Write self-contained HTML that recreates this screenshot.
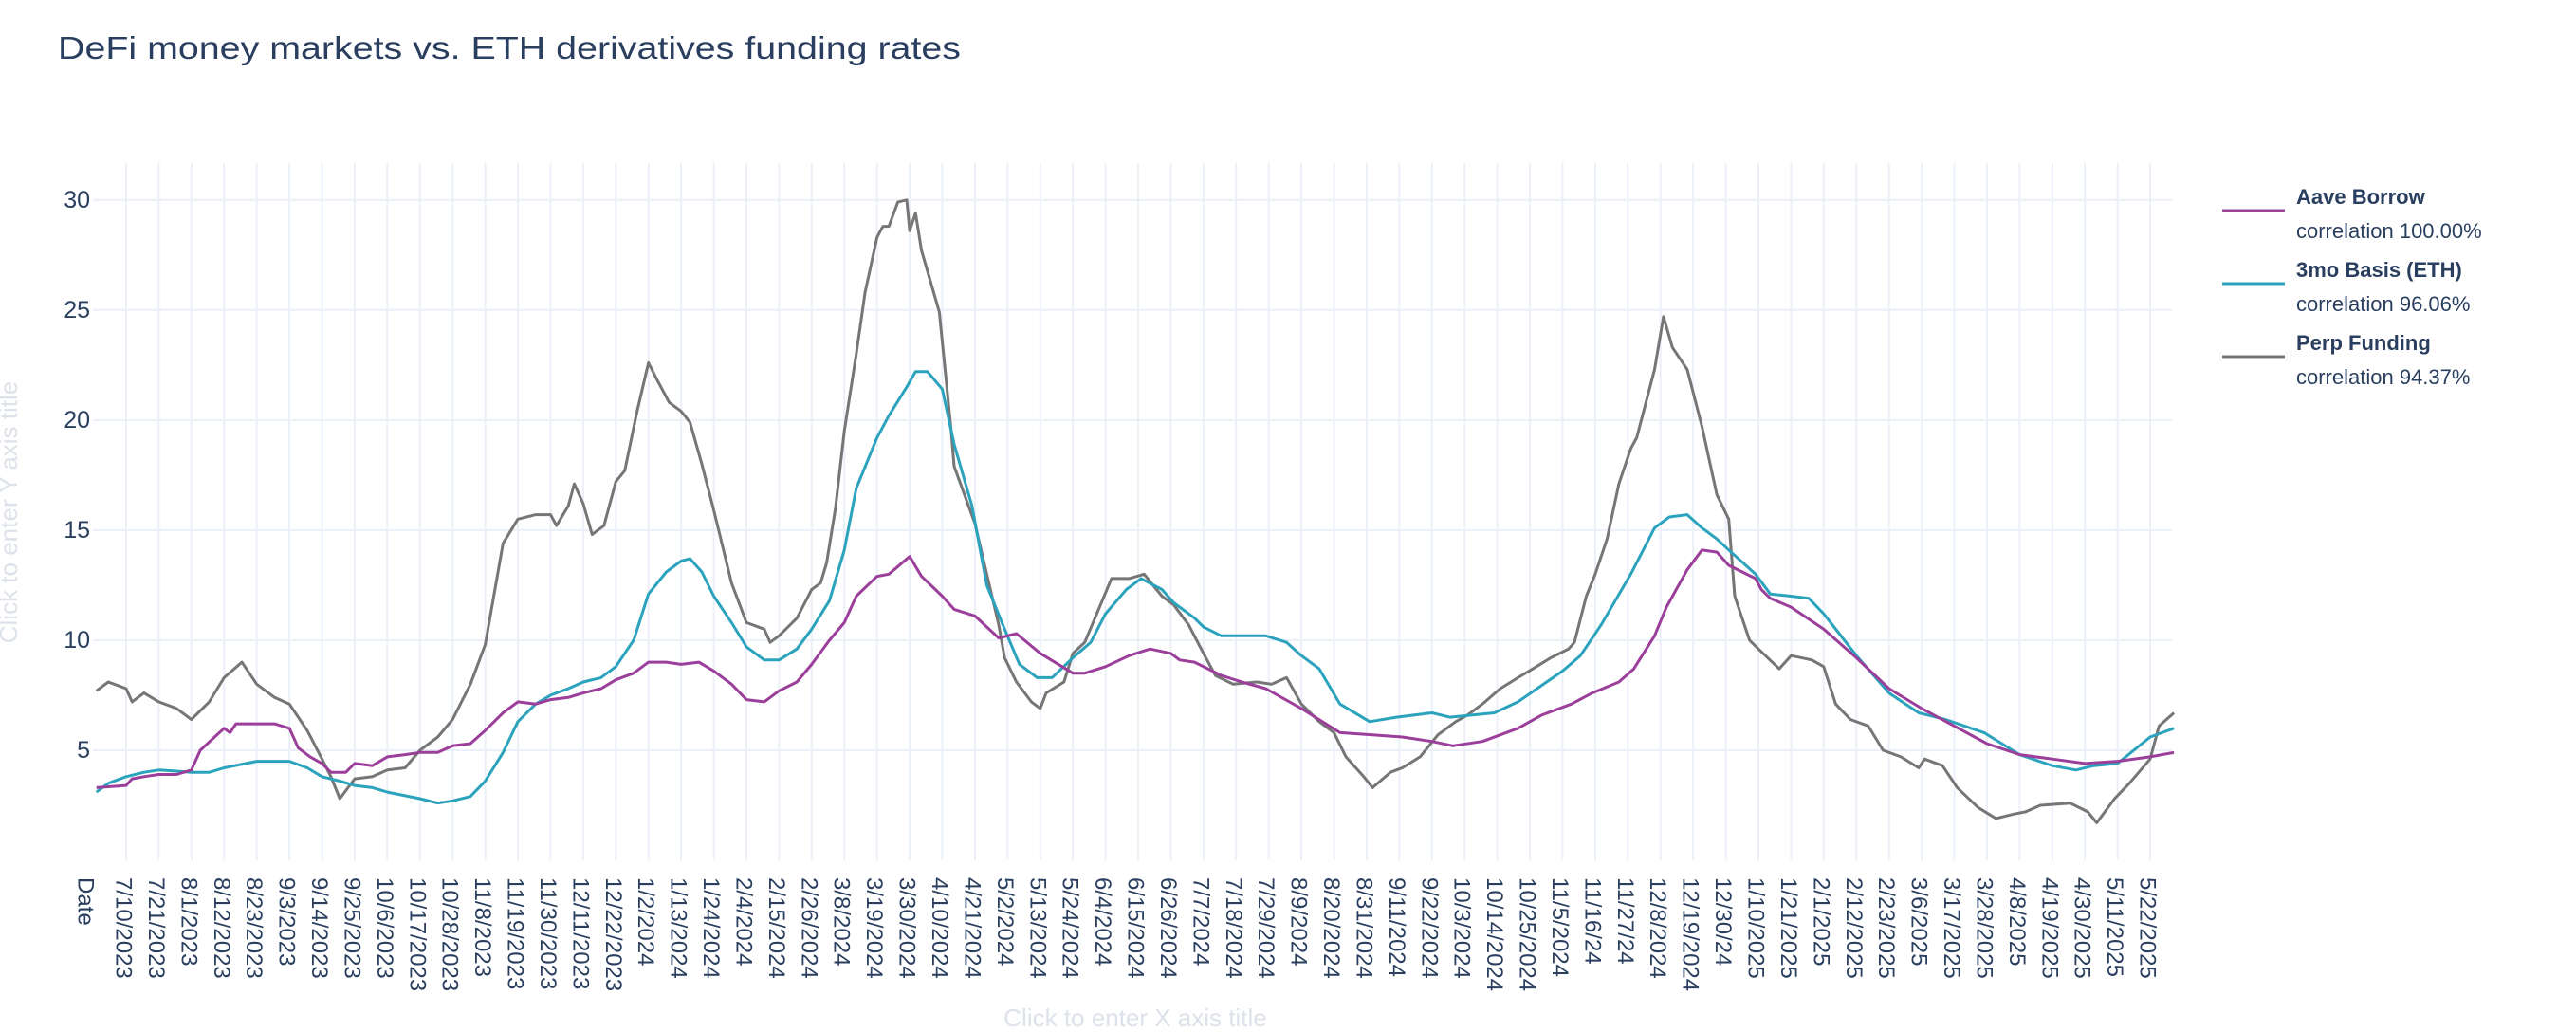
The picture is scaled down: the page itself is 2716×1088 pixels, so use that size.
<!DOCTYPE html>
<html><head><meta charset="utf-8">
<style>
html,body{margin:0;padding:0;background:#fff;}
svg{display:block;font-family:"Liberation Sans",sans-serif;}
</style></head>
<body>
<svg id="chart" width="2716" height="1088" viewBox="0 0 2716 1088" xmlns="http://www.w3.org/2000/svg">
  <rect width="2716" height="1088" fill="#ffffff"/>
  <text x="61" y="62" font-size="33" fill="#2a3f5f" textLength="952" lengthAdjust="spacingAndGlyphs">DeFi money markets vs. ETH derivatives funding rates</text>
  <g id="grid"></g>
  <g id="yticks"></g>
  <g id="xticks"></g>
  <g id="series"></g>
  <text transform="translate(18,540) rotate(-90)" text-anchor="middle" font-size="26" fill="#dde2ea">Click to enter Y axis title</text>
  <text x="1197" y="1082" text-anchor="middle" font-size="26" fill="#dde2ea">Click to enter X axis title</text>
  <g>
    <g>
      <line x1="2343" y1="222" x2="2409" y2="222" stroke="#9b3f9b" stroke-width="3"/>
      <text x="2421" y="215" font-size="22" font-weight="bold" fill="#2a3f5f">Aave Borrow</text>
      <text x="2421" y="251" font-size="22" fill="#2a3f5f">correlation 100.00%</text>
    </g>
    <g>
      <line x1="2343" y1="299" x2="2409" y2="299" stroke="#2ca3bd" stroke-width="3"/>
      <text x="2421" y="292" font-size="22" font-weight="bold" fill="#2a3f5f">3mo Basis (ETH)</text>
      <text x="2421" y="328" font-size="22" fill="#2a3f5f">correlation 96.06%</text>
    </g>
    <g>
      <line x1="2343" y1="376" x2="2409" y2="376" stroke="#767676" stroke-width="3"/>
      <text x="2421" y="369" font-size="22" font-weight="bold" fill="#2a3f5f">Perp Funding</text>
      <text x="2421" y="405" font-size="22" fill="#2a3f5f">correlation 94.37%</text>
    </g>
  </g>
</svg>
<script>
const tickLabels = ["7/10/2023","7/21/2023","8/1/2023","8/12/2023","8/23/2023","9/3/2023","9/14/2023","9/25/2023","10/6/2023","10/17/2023","10/28/2023","11/8/2023","11/19/2023","11/30/2023","12/11/2023","12/22/2023","1/2/2024","1/13/2024","1/24/2024","2/4/2024","2/15/2024","2/26/2024","3/8/2024","3/19/2024","3/30/2024","4/10/2024","4/21/2024","5/2/2024","5/13/2024","5/24/2024","6/4/2024","6/15/2024","6/26/2024","7/7/2024","7/18/2024","7/29/2024","8/9/2024","8/20/2024","8/31/2024","9/11/2024","9/22/2024","10/3/2024","10/14/2024","10/25/2024","11/5/2024","11/16/24","11/27/24","12/8/2024","12/19/2024","12/30/24","1/10/2025","1/21/2025","2/1/2025","2/12/2025","2/23/2025","3/6/2025","3/17/2025","3/28/2025","4/8/2025","4/19/2025","4/30/2025","5/11/2025","5/22/2025"];
const tickStepDays = 11;
const yTicks = [5,10,15,20,25,30];

const aaveDays = [-10,0,2,6,11,17,22,25,29,33,35,37,44,50,55,58,62,66,69,74,77,83,88,94,99,105,110,116,121,127,132,138,143,149,154,160,165,171,176,182,187,193,198,204,209,215,220,226,231,237,242,246,253,257,264,268,275,279,286,294,300,308,319,323,330,338,345,352,355,360,369,376,384,396,409,420,430,440,447,457,469,477,487,494,503,508,515,519,526,531,536,540,549,551,554,561,572,583,594,605,616,627,638,649,660,671,682,690];
const aaveVals = [3.3,3.4,3.7,3.8,3.9,3.9,4.1,5.0,5.5,6.0,5.8,6.2,6.2,6.2,6.0,5.1,4.7,4.4,4.0,4.0,4.4,4.3,4.7,4.8,4.9,4.9,5.2,5.3,5.9,6.7,7.2,7.1,7.3,7.4,7.6,7.8,8.2,8.5,9.0,9.0,8.9,9.0,8.6,8.0,7.3,7.2,7.7,8.1,8.9,10.0,10.8,12.0,12.9,13.0,13.8,12.9,12.0,11.4,11.1,10.1,10.3,9.4,8.5,8.5,8.8,9.3,9.6,9.4,9.1,9.0,8.4,8.1,7.8,6.9,5.8,5.7,5.6,5.4,5.2,5.4,6.0,6.6,7.1,7.6,8.1,8.7,10.2,11.5,13.2,14.1,14.0,13.4,12.8,12.3,11.9,11.5,10.5,9.2,7.8,6.9,6.1,5.3,4.8,4.6,4.4,4.5,4.7,4.9];

const basisDays = [-10,-6,0,6,11,17,22,28,33,44,55,61,66,72,77,83,88,99,105,110,116,121,127,132,138,143,149,154,160,165,171,176,182,187,190,194,198,204,209,215,220,226,231,237,242,246,253,257,263,266,270,275,279,285,290,296,301,307,312,319,325,330,337,342,349,353,360,363,369,376,384,391,396,402,409,419,428,440,446,461,469,484,490,497,507,515,520,526,531,536,540,549,554,561,567,572,583,594,604,613,626,638,649,657,663,671,682,690];
const basisVals = [3.1,3.5,3.8,4.0,4.1,4.05,4.0,4.0,4.2,4.5,4.5,4.2,3.8,3.6,3.4,3.3,3.1,2.8,2.6,2.7,2.9,3.6,4.9,6.3,7.1,7.5,7.8,8.1,8.3,8.8,10.0,12.1,13.1,13.6,13.7,13.1,12.0,10.8,9.7,9.1,9.1,9.6,10.5,11.8,14.1,16.9,19.2,20.2,21.5,22.2,22.2,21.4,18.9,16.1,12.5,10.5,8.9,8.3,8.3,9.2,9.9,11.2,12.3,12.8,12.3,11.7,11.0,10.6,10.2,10.2,10.2,9.9,9.3,8.7,7.1,6.3,6.5,6.7,6.5,6.7,7.2,8.6,9.3,10.7,13.0,15.1,15.6,15.7,15.1,14.6,14.1,13.0,12.1,12.0,11.9,11.2,9.3,7.6,6.7,6.4,5.8,4.8,4.3,4.1,4.3,4.4,5.6,6.0];

const perpDays = [-10,-6,0,2,6,11,17,22,28,33,39,44,50,55,61,66,69,72,77,83,88,94,99,105,110,116,121,124,127,132,138,143,145,149,151,154,157,161,165,168,172,176,179,183,187,190,194,198,204,209,215,217,220,226,231,234,236,239,242,246,249,253,255,257,260,263,264,266,268,274,278,279,286,290,294,296,300,305,308,310,316,319,323,328,332,338,343,349,353,358,363,367,373,381,386,391,396,402,407,411,417,420,426,430,436,442,448,452,457,463,469,474,480,486,488,492,495,499,503,507,509,515,518,521,526,531,536,540,542,547,550,557,561,568,572,576,581,587,592,598,604,606,612,617,624,630,636,640,645,655,661,664,670,675,682,685,690];
const perpVals = [7.7,8.1,7.8,7.2,7.6,7.2,6.9,6.4,7.2,8.3,9.0,8.0,7.4,7.1,5.9,4.6,3.8,2.8,3.7,3.8,4.1,4.2,5.0,5.6,6.4,8.0,9.8,12.1,14.4,15.5,15.7,15.7,15.2,16.1,17.1,16.2,14.8,15.2,17.2,17.7,20.3,22.6,21.8,20.8,20.4,19.9,18.0,15.9,12.6,10.8,10.5,9.9,10.2,11.0,12.3,12.6,13.5,16.0,19.5,23.0,25.8,28.3,28.8,28.8,29.9,30.0,28.6,29.4,27.7,24.9,19.5,17.9,15.3,13.0,10.7,9.2,8.1,7.2,6.9,7.6,8.1,9.4,9.9,11.5,12.8,12.8,13.0,12.0,11.6,10.7,9.4,8.4,8.0,8.1,8.0,8.3,7.1,6.3,5.8,4.7,3.8,3.3,4.0,4.2,4.7,5.7,6.3,6.6,7.1,7.8,8.3,8.7,9.2,9.6,9.9,12.0,13.0,14.6,17.1,18.7,19.2,22.3,24.7,23.3,22.3,19.7,16.6,15.5,12.0,10.0,9.6,8.7,9.3,9.1,8.8,7.1,6.4,6.1,5.0,4.7,4.2,4.6,4.3,3.3,2.4,1.9,2.1,2.2,2.5,2.6,2.2,1.7,2.8,3.5,4.6,6.1,6.7];

const NS = "http://www.w3.org/2000/svg";
const plotL = 98, plotR = 2290, plotT = 172, plotB = 907;
const firstTickX = 133, tickSpacing = 34.42;
const yMin = 0, yMax = 31.67;
function xScale(day){ return firstTickX + day / tickStepDays * tickSpacing; }
function yScale(v){ return plotB - (v - yMin) / (yMax - yMin) * (plotB - plotT); }
function mk(tag, attrs, parent){
  const e = document.createElementNS(NS, tag);
  for (const k in attrs) e.setAttribute(k, attrs[k]);
  parent.appendChild(e);
  return e;
}
const grid = document.getElementById('grid');
const yt = document.getElementById('yticks');
const xt = document.getElementById('xticks');
const ser = document.getElementById('series');

tickLabels.forEach((lab, i) => {
  const x = xScale(i * tickStepDays);
  const gl = mk('line', {x1:x, x2:x, y1:plotT, y2:plotB, stroke:'#ebf0f8', 'stroke-width':2}, grid);
  
  
  const t = mk('text', {transform:`translate(${x-3},925) rotate(90)`, 'font-size':24, fill:'#2a3f5f', 'dominant-baseline':'central'}, xt);
  t.textContent = lab;
  
  
});
const dl = mk('text', {transform:`translate(90,925) rotate(90)`, 'font-size':24, fill:'#2a3f5f', 'dominant-baseline':'central'}, xt);
dl.textContent = 'Date';



yTicks.forEach(v => {
  const y = yScale(v);
  const gl = mk('line', {x1:plotL, x2:plotR, y1:y, y2:y, stroke:'#ebf0f8', 'stroke-width':2}, grid);
  
  
  const t = mk('text', {x:95, y:y, 'text-anchor':'end', 'dominant-baseline':'central', 'font-size':25, fill:'#2a3f5f'}, yt);
  t.textContent = String(v);
  
  
});

function drawLine(days, vals, color, name){
  const pts = days.map((d, i) => xScale(d).toFixed(1) + ',' + yScale(vals[i]).toFixed(1)).join(' ');
  const p = mk('polyline', {points:pts, fill:'none', stroke:color, 'stroke-width':3, 'stroke-linejoin':'round'}, ser);
  
  
}
drawLine(perpDays, perpVals, '#767676', 'perp-funding-line');
drawLine(basisDays, basisVals, '#2ca3bd', 'basis-eth-line');
drawLine(aaveDays, aaveVals, '#9b3f9b', 'aave-borrow-line');
</script>
</body></html>
